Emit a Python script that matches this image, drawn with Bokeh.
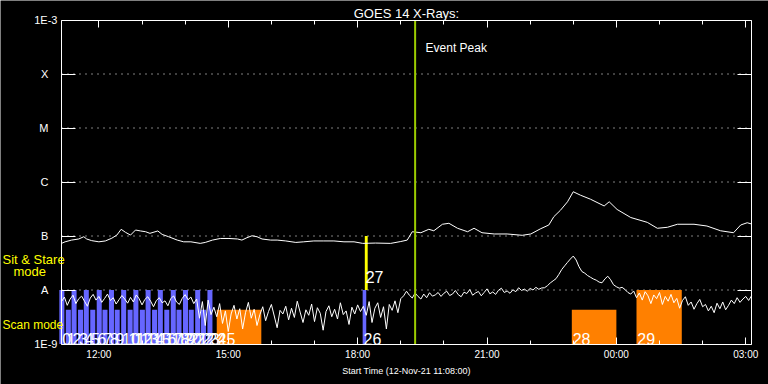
import pandas as pd
from bokeh.plotting import figure
from bokeh.models import (DatetimeAxis, LogAxis, FixedTicker, DatetimeTickFormatter,
                          Label, ColumnDataSource, Range1d)
from bokeh.embed import file_html
from bokeh.resources import INLINE
from bokeh.core.properties import value

# ---------------- data ----------------
START = "2021-11-12 11:08:00"
END = "2021-11-13 03:08:00"
EVENT_PEAK = "2021-11-12 19:20:00"

# GOES long channel (1-8 A): minutes after start, flux W/m^2
long_min = [0, 5, 14, 24, 31, 35, 42, 52, 61, 70,
            77, 83, 89, 96, 103, 110, 117, 123, 134, 140,
            149, 161, 170, 180, 193, 200, 210, 221, 233, 245,
            251, 258, 265, 272, 279, 291, 300, 312, 326, 337,
            351, 365, 379, 393, 407, 419, 437, 458, 472, 481,
            488, 500, 511, 518, 530, 539, 551, 565, 574, 585,
            602, 620, 641, 653, 666, 678, 685, 694, 704, 712,
            722, 736, 755, 762, 773, 792, 815, 829, 843, 857,
            880, 898, 917, 935, 945, 954, 960]
long_flux = [7.3e-8, 7.8e-8, 8.4e-8, 8.8e-8, 9.7e-8, 8.8e-8, 8.2e-8, 7.8e-8, 8.1e-8, 9.1e-8,
             1.04e-7, 1.33e-7, 1.17e-7, 1.04e-7, 1.29e-7, 1.24e-7, 1.20e-7, 1.12e-7, 1.24e-7, 1.07e-7,
             9.7e-8, 8.4e-8, 7.8e-8, 7.8e-8, 7.3e-8, 7.6e-8, 8.4e-8, 9.0e-8, 9.0e-8, 8.8e-8,
             8.4e-8, 9.3e-8, 1.01e-7, 9.7e-8, 8.8e-8, 8.4e-8, 8.4e-8, 8.1e-8, 7.6e-8, 7.8e-8,
             8.1e-8, 8.1e-8, 8.1e-8, 7.8e-8, 7.8e-8, 7.3e-8, 7.4e-8, 7.3e-8, 7.9e-8, 8.4e-8,
             1.20e-7, 1.15e-7, 1.33e-7, 1.25e-7, 1.65e-7, 1.72e-7, 1.39e-7, 1.20e-7, 1.39e-7, 1.15e-7,
             1.09e-7, 1.09e-7, 1.03e-7, 1.09e-7, 1.35e-7, 1.60e-7, 2.28e-7, 2.98e-7, 4.3e-7, 6.6e-7,
             5.7e-7, 4.8e-7, 3.6e-7, 4.3e-7, 3.1e-7, 2.2e-7, 1.79e-7, 1.39e-7, 1.45e-7, 1.65e-7,
             1.65e-7, 1.53e-7, 1.25e-7, 1.15e-7, 1.60e-7, 1.76e-7, 1.67e-7]

# GOES short channel (0.5-4 A): one value every 4 minutes, in units of 1e-9 W/m^2
short_step_min = 4
short_flux_e9 = [
    6.1, 7.4, 5.2, 6.8, 8.0, 5.6, 6.9, 7.7, 6.2, 5.0,
    7.1, 8.3, 6.5, 7.6, 5.9, 7.0, 8.4, 6.4, 7.2, 5.5,
    6.6, 7.9, 6.8, 5.7, 7.3, 6.0, 8.1, 6.9, 5.3, 6.7,
    7.5, 6.2, 4.9, 6.4, 7.2, 5.8, 6.3, 5.1, 6.9, 7.8,
    6.0, 5.4, 7.0, 8.2, 6.6, 7.4, 5.6, 6.8, 3.0, 6.1,
    2.2, 6.5, 3.5,
    4.8, 3.2, 5.6, 2.4, 4.1, 1.7, 3.6, 5.2, 2.9, 4.5,
    1.9, 3.8, 5.9, 3.0, 4.4, 2.2, 3.5, 4.9, 2.7, 4.0,
    5.4, 3.3, 2.0, 4.2, 3.6, 5.0, 2.8, 4.6, 3.1, 6.2,
    3.9, 2.5, 4.3, 3.4, 5.5, 2.6, 4.7, 3.7, 1.8, 4.0,
    5.1, 3.2, 4.4, 2.9, 5.8, 3.5, 4.1, 2.3, 4.8, 3.6,
    5.3, 4.0,
    5.0, 3.4, 6.1, 2.5, 4.6, 5.8, 3.1, 4.9, 1.9, 5.4, 4.2, 6.3, 3.8, 6.9, 7.8,
    9.5, 8.0, 7.1, 8.8, 7.6, 6.8, 8.4, 7.2, 8.9, 7.7,
    8.1, 9.0, 7.6, 8.7, 9.5, 7.9, 8.4, 9.8, 8.2, 7.5,
    9.1, 8.6, 10.2, 8.0, 8.8, 9.4, 7.8, 9.0, 10.5, 8.5,
    9.2, 8.3, 9.9, 10.8, 9.0, 9.6, 8.7, 10.1, 9.3, 11.0,
    9.8, 10.4, 9.5, 10.7, 10.0, 11.2, 10.3, 10.9,
    11.0, 12.0, 13.5, 14.8, 16.2, 19.5, 24.0, 28.0, 32.5, 37.5, 42.5,
    36.0, 27.0, 22.0, 20.5, 18.5, 17.2, 16.0, 15.2, 14.0, 13.6,
    16.0, 18.0, 15.5, 12.5, 11.5, 10.8, 11.2,
    10.2, 9.0, 8.4, 9.6, 7.2, 8.8, 6.5, 9.3, 7.8, 5.6, 8.1, 6.9, 9.0, 5.4, 7.6,
    6.2, 8.3, 5.8, 7.0, 4.6, 6.4, 7.5, 5.2, 6.0, 4.4, 5.6, 6.7, 4.9, 5.4, 4.1,
    5.0, 3.8, 5.7, 4.5, 6.0, 4.3, 5.2, 6.5, 5.6, 7.2, 5.9, 6.8, 7.6, 6.4, 7.8]

# observations (minutes after start)
obs_label = ["0", "1", "2", "3", "4", "5", "6", "7", "8", "9", "10", "11", "12", "13", "14",
             "15", "16", "17", "18", "19", "20", "21", "22", "23", "24", "25", "26", "27",
             "28", "29"]
obs_start_min = [-3, 6, 14, 23, 31, 40, 49, 57, 66, 74, 83, 92, 100, 109, 117, 126, 134, 143,
                 152, 160, 169, 177, 186, 194, 203, 216, 419, 422, 710, 800]
obs_end_min = [4, 13, 21, 30, 38, 47, 56, 64, 73, 81, 90, 99, 107, 116, 124, 133, 141, 150,
               159, 167, 176, 184, 193, 201, 210, 278, 424, 426, 772, 863]
obs_bottom = [1e-9] * 27 + [1e-8, 1e-9, 1e-9]
obs_top = [1e-8, 4.3e-9, 1e-8, 4.3e-9, 1e-8, 4.3e-9, 1e-8, 4.3e-9, 1e-8, 4.3e-9,
           1e-8, 4.3e-9, 1e-8, 4.3e-9, 1e-8, 4.3e-9, 1e-8, 4.3e-9, 1e-8, 4.3e-9,
           1e-8, 4.3e-9, 1e-8, 4.3e-9, 1e-8, 4.3e-9, 1e-8, 1e-7, 4.3e-9, 1e-8]
obs_kind = ["raster"] * 25 + ["wide", "raster", "sit", "wide", "wide"]

y_ticks = [1e-9, 1e-8, 1e-7, 1e-6, 1e-5, 1e-4, 1e-3]
y_tick_labels = ["1E-9", "A", "B", "C", "M", "X", "1E-3"]
x_major = ["2021-11-12 12:00", "2021-11-12 15:00", "2021-11-12 18:00",
           "2021-11-12 21:00", "2021-11-13 00:00", "2021-11-13 03:00"]
title = "GOES 14 X-Rays:"
x_title = "Start Time (12-Nov-21 11:08:00)"

# ---------------- helpers (layout) ----------------
def ms(t):
    return pd.Timestamp(t).value / 1e6

t0, t1 = ms(START), ms(END)
MIN = 60000.0
XPM = 60.0 / 43.125              # minutes per screen pixel


def X(px):                       # canvas pixel -> time
    return t0 + (px - 61) * XPM * MIN


def Y(py):                       # canvas pixel -> flux
    return 10 ** (-9 + (343.5 - py) / 54)


kind_color = {"raster": "#6666ff", "wide": "#ff8000", "sit": "#ffff00"}
label_lift = {"raster": 10 ** (5 / 54), "wide": 10 ** (5 / 54), "sit": 10 ** (13 / 54)}

obs = ColumnDataSource(dict(
    left=[t0 + s * MIN for s in obs_start_min],
    right=[t0 + e * MIN for e in obs_end_min],
    bottom=obs_bottom, top=obs_top,
    color=[kind_color[k] for k in obs_kind],
    lx=[t0 + (max(s, 0) + 1.2) * MIN for s in obs_start_min],
    ly=[b * label_lift[k] for b, k in zip(obs_bottom, obs_kind)],
    text=obs_label,
))

long_src = ColumnDataSource(dict(x=[t0 + m * MIN for m in long_min], y=long_flux))
short_src = ColumnDataSource(dict(
    x=[t0 + i * short_step_min * MIN for i in range(len(short_flux_e9))],
    y=[v * 1e-9 for v in short_flux_e9]))

# ---------------- figure (frame = whole canvas, axes at fixed locations) ----------------
p = figure(width=768, height=384, x_axis_type="datetime", y_axis_type="log",
           x_range=Range1d(X(0), X(768)), y_range=Range1d(Y(384), Y(0)),
           output_backend="svg", toolbar_location=None,
           min_border_left=0, min_border_right=0, min_border_top=0, min_border_bottom=0,
           background_fill_color="black", border_fill_color="black",
           outline_line_color=None)
p.xgrid.visible = False
p.ygrid.visible = False

FONT = "Liberation Sans"
xt = FixedTicker(ticks=[ms(t) for t in x_major],
                 minor_ticks=[ms("2021-11-12 12:00") + h * 3600000 for h in range(16)])
fmt = DatetimeTickFormatter(hours="%H:%M", hourmin="%H:%M", days="%H:%M", minutes="%H:%M",
                            minsec="%H:%M", seconds="%H:%M", months="%H:%M", years="%H:%M")

xb = p.xaxis[0]
xb.fixed_location = 1e-9
xb.bounds = (t0, t1)
xb.ticker = xt
xb.formatter = fmt
xb.axis_label = x_title
xb.major_label_text_color = "white"
xb.major_label_text_font = FONT
xb.major_label_text_font_size = "10px"
xb.major_label_standoff = 5
xb.axis_label_text_color = "white"
xb.axis_label_text_font = FONT
xb.axis_label_text_font_size = "9px"
xb.axis_label_text_font_style = "normal"
xb.axis_label_standoff = 2

xtop = DatetimeAxis(fixed_location=1e-3, bounds=(t0, t1), ticker=xt, formatter=fmt,
                    major_label_text_font_size="1px", major_label_text_color=None,
                    major_label_standoff=0,
                    axis_label=title, axis_label_text_color="white",
                    axis_label_text_font=FONT, axis_label_text_font_size="13px",
                    axis_label_text_font_style="normal", axis_label_standoff=0)
p.add_layout(xtop, "above")
for ax in [xb, xtop]:
    ax.axis_line_color = "white"
    ax.major_tick_line_color = "white"
    ax.minor_tick_line_color = "white"
    ax.major_tick_in = 7
    ax.major_tick_out = 0
    ax.minor_tick_in = 4
    ax.minor_tick_out = 0

NB = "\u00a0"
yl = p.yaxis[0]
yl.fixed_location = t0
yl.bounds = (1e-9, 1e-3)
yl.ticker = FixedTicker(ticks=y_ticks, minor_ticks=[])
yl.major_label_overrides = {v: (t if t.startswith("1E") else t + NB * 3)
                            for v, t in zip(y_ticks, y_tick_labels)}
yl.major_label_text_color = "white"
yl.major_label_text_font = FONT
yl.major_label_text_font_size = "11px"
yl.major_label_standoff = 4

yr = LogAxis(fixed_location=t1, bounds=(1e-9, 1e-3),
             ticker=FixedTicker(ticks=y_ticks, minor_ticks=[]),
             major_label_text_font_size="1px", major_label_text_color=None,
             major_label_standoff=0)
p.add_layout(yr, "right")
for ax in [yl, yr]:
    ax.axis_line_color = "white"
    ax.major_tick_line_color = "white"
    ax.minor_tick_line_color = None
    ax.major_tick_in = 14
    ax.major_tick_out = 0

# dotted decade lines between the two y axes
grid_levels = y_ticks[1:-1]
p.segment(x0=[t0] * len(grid_levels), x1=[t1] * len(grid_levels), y0=grid_levels,
          y1=grid_levels, line_color="white", line_width=1, line_dash="1 5")

# observation bars
p.quad(left="left", right="right", bottom="bottom", top="top", color="color",
       line_color=None, source=obs)

# GOES curves
p.line("x", "y", source=long_src, line_color="white", line_width=1)
p.line("x", "y", source=short_src, line_color="white", line_width=1)

# observation numbers
p.text(x="lx", y="ly", text="text", source=obs, text_color="white",
       text_font=value(FONT), text_font_size="16px", text_baseline="alphabetic",
       text_align="left")

# event peak line
ep = ms(EVENT_PEAK)
p.segment(x0=[ep], x1=[ep], y0=[1e-9], y1=[1e-3], line_color="#9ccc00", line_width=2)
p.add_layout(Label(x=ep + 14.5 * MIN, y=Y(47), text="Event Peak",
                   text_baseline="alphabetic", text_color="white",
                   text_font=FONT, text_font_size="12px"))

# mode captions in the left margin
for px, py, txt, fs in [(2, 259, "Sit & Stare", "13px"), (13, 271, "mode", "13px"),
                        (2, 324, "Scan mode", "12px")]:
    p.add_layout(Label(x=X(px), y=Y(py), text=txt, text_baseline="middle",
                       text_color="#ffff00", text_font=FONT, text_font_size=fs))

open("out.html", "w").write(file_html(p, INLINE))
